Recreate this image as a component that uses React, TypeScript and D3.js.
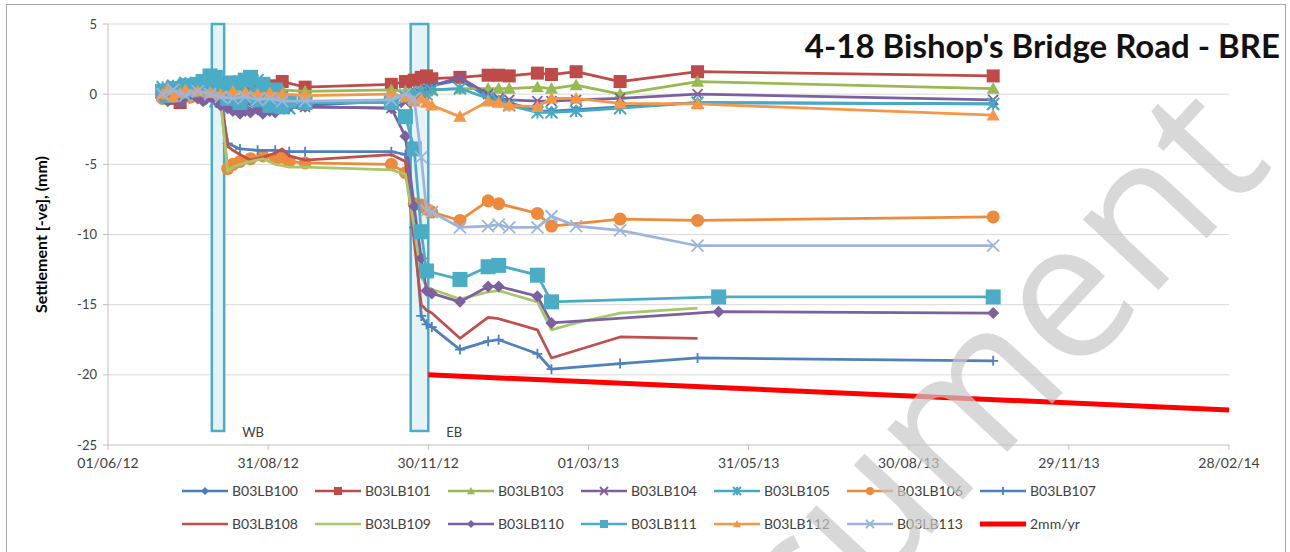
import React from 'react';
import * as d3 from 'd3';

const _ = null;

// survey visit dates (shared by all monitoring points)
const visitDates = [
  '2012-07-02', '2012-07-05', '2012-07-08', '2012-07-12', '2012-07-15', '2012-07-18', '2012-07-22', '2012-07-25', '2012-07-29', '2012-08-01',
  '2012-08-04', '2012-08-08', '2012-08-11', '2012-08-15', '2012-08-18', '2012-08-21', '2012-08-25', '2012-08-28', '2012-09-01', '2012-09-04',
  '2012-09-08', '2012-09-12', '2012-09-21', '2012-11-09', '2012-11-17', '2012-11-22', '2012-11-26', '2012-11-29', '2012-12-02', '2012-12-18',
  '2013-01-03', '2013-01-09', '2013-01-15', '2013-01-31', '2013-02-08', '2013-02-22', '2013-03-19', '2013-05-02', '2013-05-14', '2013-10-17',
];

const b03lb100 = [
  0.3, -0.2, 0.1, 0.0, 0.2, 0.3, 0.1, 0.4, 0.2, 0.0,
  -0.3, -0.2, -0.4, -0.5, -0.4, -0.6, -0.5, -0.7, -0.6, -0.8,
  -0.7, -0.9, -0.8, -0.5, -0.2, 0.2, 0.3, 0.5, 0.6, 1.0,
  -0.2, -0.4, -0.6, -1.2, -1.2, -1.1, -0.9, -0.6, _, -0.7,
];
const b03lb101 = [
  0.0, 0.3, -0.3, -0.6, 0.2, _, 0.5, _, 0.8, _,
  0.7, _, 0.5, _, 0.6, _, 0.6, _, 0.6, _,
  0.9, _, 0.5, 0.7, 0.9, 1.0, 1.2, 1.3, 1.1, 1.2,
  1.35, 1.35, 1.3, 1.5, 1.4, 1.6, 0.9, 1.6, _, 1.3,
];
const b03lb103 = [
  0.2, 0.5, 0.0, 0.3, _, 0.4, _, 0.6, _, 0.5,
  0.2, _, 0.3, _, 0.2, _, 0.3, _, 0.2, _,
  0.3, _, 0.2, 0.3, 0.2, 0.1, 0.3, 0.2, 0.3, 0.4,
  0.4, 0.4, 0.4, 0.5, 0.4, 0.65, 0.0, 0.9, _, 0.4,
];
const b03lb104 = [
  0.1, 0.3, -0.2, -0.5, -0.3, -0.1, 0.0, -0.2, -0.4, -0.5,
  -0.6, -0.3, -0.5, -0.6, -0.7, -0.5, -0.6, -0.8, -0.7, -0.9,
  -0.8, -1.0, -0.9, -1.0, -0.6, -0.3, 0.0, 0.4, 0.6, 1.2,
  0.0, -0.3, -0.4, -0.5, -0.5, -0.4, -0.3, 0.0, _, -0.4,
];
const b03lb105 = [
  0.5, 0.2, 0.6, 0.4, 0.8, 0.5, 0.3, 0.6, 0.9, -0.5,
  0.8, -0.7, 0.5, 0.9, -0.8, 0.4, 1.0, -0.9, 0.2, -0.7,
  -0.2, -1.0, -0.6, -0.4, -0.2, 0.0, 0.2, 0.0, 0.3, 0.4,
  -0.3, -0.5, -0.8, -1.3, -1.3, -1.2, -1.0, -0.6, _, -0.7,
];
const b03lb106 = [
  -0.3, 0.1, -0.1, 0.2, 0.0, -0.2, 0.1, 0.3, 0.0, -0.2,
  -0.5, -5.3, -5.0, -4.8, _, -4.6, _, -4.4, _, -4.6,
  -4.5, -4.8, -4.9, -5.0, -5.6, -7.8, -7.9, -8.2, -8.4, -9.0,
  -7.6, -7.8, _, -8.5, -9.4, _, -8.9, -9.0, _, -8.75,
];
const b03lb107 = [
  0.1, _, 0.3, _, -0.1, _, 0.2, _, 0.0, _,
  -0.2, -3.5, _, -3.9, _, _, -4.0, _, _, -4.0,
  _, -4.1, -4.1, -4.1, -4.3, -9.5, -15.8, -16.4, -16.6, -18.2,
  -17.6, -17.5, _, -18.5, -19.6, _, -19.2, -18.8, _, -19.0,
];
const b03lb108 = [
  0.2, _, -0.1, _, 0.3, _, 0.0, _, 0.2, _,
  -0.3, -3.7, -4.0, -4.3, _, -4.7, _, -4.5, _, -4.2,
  -3.9, -4.4, -4.7, -4.3, -4.8, -10.5, -15.0, -15.4, -15.6, -17.4,
  -15.9, -16.0, _, -16.8, -18.8, _, -17.3, -17.4, _, _,
];
const b03lb109 = [
  -0.1, _, 0.2, _, 0.0, _, 0.3, _, -0.1, _,
  -0.4, -5.5, -5.2, -5.0, _, -4.8, _, -4.6, _, -5.0,
  -5.1, -5.2, -5.2, -5.4, -5.7, -9.5, -13.0, -13.7, -13.9, -14.6,
  -14.1, -14.0, _, -14.8, -16.8, -16.3, -15.6, -15.25, _, _,
];
const b03lb110 = [
  -0.2, -0.5, -0.3, -0.6, -0.2, 0.0, -0.3, -0.5, -0.2, -0.4,
  -0.8, -1.0, -1.2, -1.4, -1.2, -1.3, -1.1, -1.4, -1.2, -1.3,
  -1.0, -0.9, -0.9, -1.0, -3.0, -8.0, -11.7, -14.0, -14.2, -14.8,
  -13.7, -13.7, _, -14.4, -16.3, _, _, _, -15.5, -15.6,
];
const b03lb111 = [
  0.2, -0.1, 0.4, 0.2, 0.6, 0.3, 0.7, 0.9, 1.3, 1.2,
  0.6, -0.3, 0.8, -0.6, 1.0, 1.2, -0.4, 0.7, -0.8, 0.3,
  -0.9, -0.5, -0.6, -0.6, -1.6, -3.9, -9.8, -12.6, _, -13.2,
  -12.3, -12.2, _, -12.9, -14.8, _, _, _, -14.45, -14.45,
];
const b03lb112 = [
  0.0, 0.4, -0.2, 0.1, 0.3, _, 0.2, _, 0.1, _,
  0.0, _, 0.2, _, 0.1, _, 0.0, _, 0.1, _,
  0.0, _, -0.1, 0.0, -0.2, -0.5, -0.3, -0.6, -0.8, -1.6,
  -0.5, -0.6, -0.8, -0.9, -0.3, -0.3, -0.65, -0.7, _, -1.5,
];
const b03lb113 = [
  0.0, _, 0.3, _, -0.1, _, 0.2, _, 0.0, _,
  -0.2, _, -0.3, _, -0.2, _, -0.4, _, -0.3, _,
  -0.5, _, -0.5, -0.4, 0.0, -0.3, -4.5, -8.3, -8.4, -9.5,
  -9.4, -9.3, -9.5, -9.5, -8.7, -9.4, -9.7, -10.8, _, -10.8,
];

const seriesNames = ['B03LB100', 'B03LB101', 'B03LB103', 'B03LB104', 'B03LB105', 'B03LB106', 'B03LB107',
  'B03LB108', 'B03LB109', 'B03LB110', 'B03LB111', 'B03LB112', 'B03LB113'];
const seriesValues = [b03lb100, b03lb101, b03lb103, b03lb104, b03lb105, b03lb106, b03lb107,
  b03lb108, b03lb109, b03lb110, b03lb111, b03lb112, b03lb113];
const seriesColors = ['#4A7EBB', '#BE4B48', '#98B954', '#7D60A0', '#46AAC5', '#EE8A3C', '#4F81BD',
  '#C0504D', '#A7C86A', '#7D60A0', '#4BACC6', '#F79646', '#9DB5DC'];
const seriesMarkers = ['diamond', 'square', 'triangle', 'x', 'star', 'circle', 'plus',
  'none', 'none', 'diamond', 'square', 'triangle', 'x'];
const markerSizes = [5, 6.5, 6.5, 5, 6, 6.5, 5, 0, 0, 6, 7.5, 6.5, 6];

// 2mm/yr reference line
const trendName = '2mm/yr';
const trendDates = ['2012-11-30', '2014-02-28'];
const trendValues = [-20, -22.5];

// tunnel passing boxes
const boxLabels = ['WB', 'EB'];
const boxStarts = ['2012-07-30', '2012-11-20'];
const boxEnds = ['2012-08-06', '2012-11-30'];
const boxTop = 5;
const boxBottom = -24;

const yTicks = [5, 0, -5, -10, -15, -20, -25];
const xTickDates = ['2012-06-01', '2012-08-31', '2012-11-30', '2013-03-01', '2013-05-31', '2013-08-30', '2013-11-29', '2014-02-28'];

const FONT = "Lato, 'Open Sans', sans-serif";

function markerShape(type: string, h: number, color: string) {
  if (type === 'none') return null;
  if (type === 'circle') return <circle r={h} fill={color} />;
  if (type === 'square') return <rect x={-h} y={-h} width={2 * h} height={2 * h} fill={color} />;
  if (type === 'diamond') return <path d={`M0,${-h}L${h},0L0,${h}L${-h},0Z`} fill={color} />;
  if (type === 'triangle') return <path d={`M0,${-h}L${h},${h * 0.8}L${-h},${h * 0.8}Z`} fill={color} />;
  if (type === 'x') return <path d={`M${-h},${-h}L${h},${h}M${-h},${h}L${h},${-h}`} stroke={color} strokeWidth={1.8} fill="none" />;
  if (type === 'plus') return <path d={`M${-h},0L${h},0M0,${-h}L0,${h}`} stroke={color} strokeWidth={1.8} fill="none" />;
  if (type === 'star') return <path d={`M${-h},${-h}L${h},${h}M${-h},${h}L${h},${-h}M0,${-h}L0,${h}`} stroke={color} strokeWidth={2} fill="none" />;
  return null;
}

export default function App() {
  const parse = d3.timeParse('%Y-%m-%d');
  const fmt = d3.timeFormat('%d/%m/%y');
  const left = 108, right = 1229, top = 24, bottom = 445;

  const x = d3.scaleTime()
    .domain([parse('2012-06-01') as Date, parse('2014-02-28') as Date])
    .range([left, right]);
  const y = d3.scaleLinear().domain([-25, 5]).range([bottom, top]);

  const dates = visitDates.map(d => parse(d) as Date);
  const line = d3.line<[Date, number]>().x(d => x(d[0])).y(d => y(d[1]));

  const series = seriesNames.map((name, i) => {
    const pts: [Date, number][] = [];
    seriesValues[i].forEach((v, j) => { if (v !== null) pts.push([dates[j], v as number]); });
    return { name, pts, color: seriesColors[i], marker: seriesMarkers[i], size: markerSizes[i] };
  });
  const trendPts: [Date, number][] = trendDates.map((d, i) => [parse(d) as Date, trendValues[i]]);

  const legendItems = [
    ...series.map(s => ({ name: s.name, color: s.color, marker: s.marker, width: 2.5 })),
    { name: trendName, color: '#FF0000', marker: 'none', width: 5 },
  ];

  return (
    <svg width={1290} height={552} style={{ position: 'absolute', left: 0, top: 0, background: '#fff' }}>
      <rect x={6.5} y={4.5} width={1279} height={600} fill="#fff" stroke="#A6A6A6" strokeWidth={1} />

      {/* gridlines */}
      {yTicks.filter(t => t !== -25).map(t => (
        <line key={t} x1={left} x2={right} y1={y(t)} y2={y(t)} stroke="#D9D9D9" strokeWidth={1} />
      ))}
      <line x1={left} x2={left} y1={top} y2={bottom} stroke="#BFBFBF" />
      <line x1={left} x2={right} y1={bottom} y2={bottom} stroke="#BFBFBF" />
      {yTicks.map(t => (
        <g key={t}>
          <line x1={left - 5} x2={left} y1={y(t)} y2={y(t)} stroke="#BFBFBF" />
          <text x={97} y={y(t)} dy="0.35em" textAnchor="end" fontFamily={FONT} fontSize={13} fill="#404040">{t}</text>
        </g>
      ))}
      {xTickDates.map(d => {
        const xd = x(parse(d) as Date);
        return (
          <g key={d}>
            <line x1={xd} x2={xd} y1={bottom} y2={bottom + 5} stroke="#BFBFBF" />
            <text x={xd} y={463} dy="0.35em" textAnchor="middle" fontFamily={FONT} fontSize={14} fill="#404040">{fmt(parse(d) as Date)}</text>
          </g>
        );
      })}
      <text transform={`translate(47,${(top + bottom) / 2}) rotate(-90)`} textAnchor="middle" fontFamily={FONT}
        fontSize={16} fontWeight="bold" fill="#000">Settlement [-ve], (mm)</text>

      {/* WB / EB boxes */}
      {boxLabels.map((lb, i) => {
        const x0 = x(parse(boxStarts[i]) as Date);
        const x1 = x(parse(boxEnds[i]) as Date);
        return (
          <g key={lb}>
            <rect x={x0} y={y(boxTop)} width={x1 - x0} height={y(boxBottom) - y(boxTop)} fill="#E3F3F8" stroke="#4BACC6" strokeWidth={2.5} />
            <text x={x1 + 18} y={y(boxBottom) + 1} dy="0.35em" fontFamily={FONT} fontSize={13} fill="#404040">{lb}</text>
          </g>
        );
      })}

      {/* series */}
      {series.map(s => (
        <g key={s.name}>
          <path d={line(s.pts) || ''} fill="none" stroke={s.color} strokeWidth={2.75} strokeLinejoin="round" />
          {s.pts.map((p, j) => (
            <g key={j} transform={`translate(${x(p[0])},${y(p[1])})`}>{markerShape(s.marker, s.size, s.color)}</g>
          ))}
        </g>
      ))}
      <path d={line(trendPts) || ''} fill="none" stroke="#FF0000" strokeWidth={5} />

      <text x={1280} y={46} dy="0.35em" textAnchor="end" fontFamily={FONT} fontSize={33} fontWeight="bold" fill="#111">4-18 Bishop's Bridge Road - BRE</text>

      {/* legend */}
      {legendItems.map((it, i) => {
        const row = i < 7 ? 0 : 1;
        const col = i % 7;
        const lx = 182 + col * 133;
        const ly = row === 0 ? 491 : 524;
        return (
          <g key={it.name}>
            <line x1={lx} x2={lx + 46} y1={ly} y2={ly} stroke={it.color} strokeWidth={it.width} />
            <g transform={`translate(${lx + 23},${ly})`}>{markerShape(it.marker, 4, it.color)}</g>
            <text x={lx + 50} y={ly} dy="0.35em" fontFamily={FONT} fontSize={14} fill="#404040">{it.name}</text>
          </g>
        );
      })}

      {/* watermark */}
      <text transform="translate(1275,165) rotate(-47)" textAnchor="end" fontFamily="'Open Sans', sans-serif"
        fontSize={193} fill="#C8C8C8" opacity={0.7}>Document</text>
    </svg>
  );
}
